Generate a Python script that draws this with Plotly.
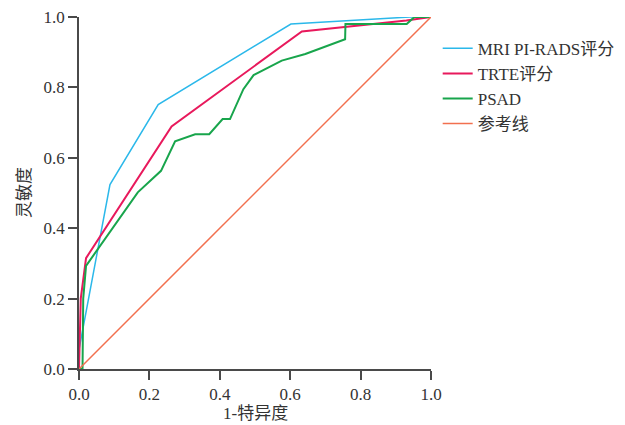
import plotly.graph_objects as go

# MRI PI-RADS score ROC
mri_x = [0.0, 0.0, 0.088, 0.225, 0.602, 0.94, 1.0]
mri_y = [0.0, 0.055, 0.524, 0.751, 0.98, 1.0, 1.0]

# TRTE score ROC
trte_x = [0.0, 0.005, 0.02, 0.263, 0.633, 0.93, 1.0]
trte_y = [0.0, 0.2, 0.315, 0.689, 0.959, 0.99, 1.0]

# PSAD ROC
psad_x = [0.0, 0.01, 0.012, 0.02, 0.167, 0.233, 0.273, 0.33, 0.37, 0.408, 0.429,
          0.467, 0.496, 0.576, 0.643, 0.704, 0.756, 0.757, 0.931, 0.953, 1.0]
psad_y = [0.0, 0.0, 0.2, 0.293, 0.502, 0.563, 0.647, 0.667, 0.667, 0.71, 0.71,
          0.795, 0.835, 0.876, 0.895, 0.917, 0.937, 0.98, 0.98, 1.0, 1.0]

# Reference line
ref_x = [0.0, 1.0]
ref_y = [0.0, 1.0]

names = ["MRI PI-RADS评分", "TRTE评分", "PSAD", "参考线"]
tick_vals = [0, 0.2, 0.4, 0.6, 0.8, 1.0]
tick_text = ["0.0", "0.2", "0.4", "0.6", "0.8", "1.0"]
x_title = "1-特异度"
y_title = "灵敏度"

colors = ["#2bb8ea", "#e8195c", "#18a54c", "#f2704f"]
widths = [1.5, 2, 2, 1.5]

font_fam = "Liberation Serif, Noto Sans CJK SC, serif"

fig = go.Figure()
for xs, ys, n, c, w in zip([mri_x, trte_x, psad_x, ref_x],
                           [mri_y, trte_y, psad_y, ref_y],
                           names, colors, widths):
    fig.add_trace(go.Scatter(x=xs, y=ys, mode="lines", name=n,
                             line=dict(color=c, width=w), cliponaxis=False))

axis_common = dict(
    range=[0, 1], showgrid=False, zeroline=False, showline=True, automargin=False,
    linecolor="#4a4a4a", linewidth=1.5, ticks="outside", ticklen=9,
    tickcolor="#4a4a4a", tickwidth=1.5, tickvals=tick_vals, ticktext=tick_text,
    ticklabeloverflow="allow",
    tickfont=dict(family=font_fam, size=17, color="#333"),
)

# page body has an 8px margin, so the figure is shrunk and shifted accordingly
fig.update_layout(
    width=617, height=417,
    margin=dict(l=71, r=194, t=9, b=56, autoexpand=False),
    plot_bgcolor="white", paper_bgcolor="white",
    font=dict(family=font_fam, size=17, color="#333"),
    xaxis=dict(**axis_common),
    yaxis=dict(**axis_common),
    legend=dict(x=1.019, y=0.961, xanchor="left", yanchor="top",
                font=dict(family=font_fam, size=17, color="#333"),
                bgcolor="rgba(0,0,0,0)", tracegroupgap=0),
    showlegend=True,
    annotations=[
        dict(text=x_title, xref="paper", yref="paper", x=0.5, y=-0.127,
             xanchor="center", yanchor="middle", showarrow=False,
             font=dict(family=font_fam, size=17, color="#333")),
        dict(text=y_title, xref="paper", yref="paper", x=-0.156, y=0.5,
             xanchor="center", yanchor="middle", showarrow=False, textangle=-90,
             font=dict(family=font_fam, size=17, color="#333")),
    ],
)

fig.write_html("out.html")
